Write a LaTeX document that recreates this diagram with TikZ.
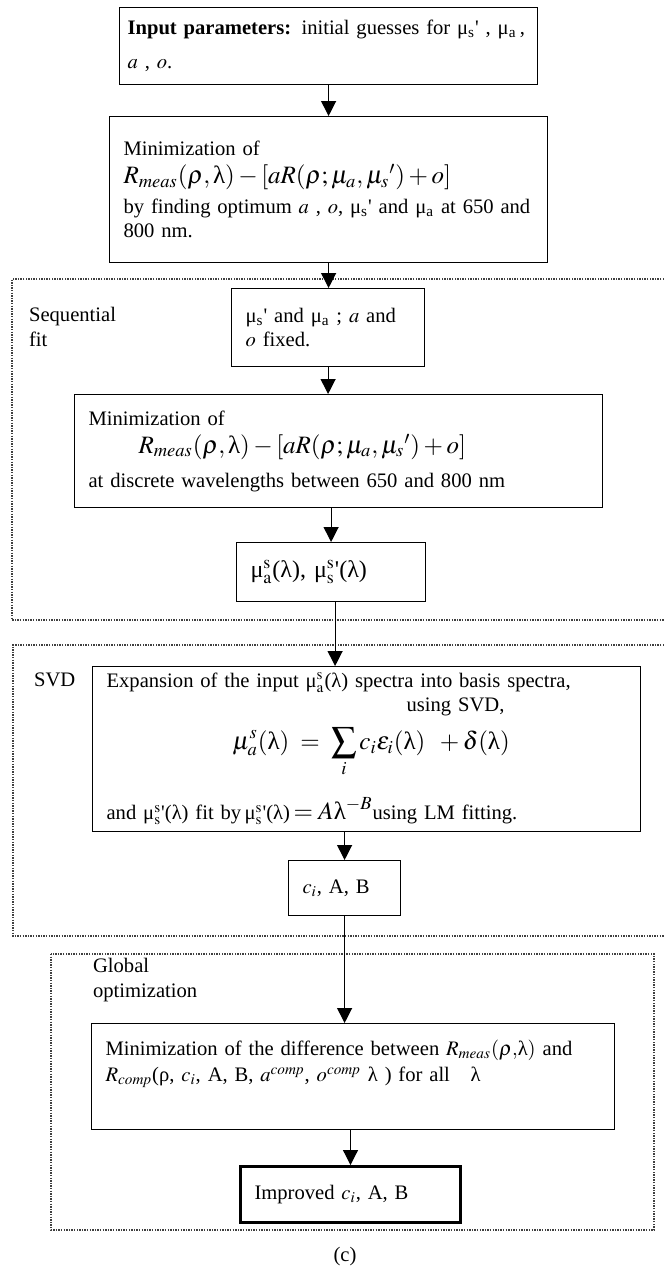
\documentclass[tikz,border=0pt]{standalone}
\usepackage{amsmath}
\usepackage{mathptmx}
\usepackage{fontspec}
\setmainfont{Liberation Serif}
\usetikzlibrary{arrows.meta}
\newcommand{\tsub}[1]{\textsubscript{#1}}
\newcommand{\pr}{\textquotesingle}
\newcommand{\lam}{\mbox{λ}}
\newcommand{\mysa}{μ$^{\mathrm{s}}_{\mathrm{a}}$}
\newcommand{\myss}{μ$^{\mathrm{s}}_{\mathrm{s}}$\pr}

\begin{document}
\begin{tikzpicture}[x=0.5pt,y=-0.5pt,
    stream/.style={-{Triangle[width=7.5pt,length=7.5pt]},line width=0.6pt},
    box/.style={draw,line width=0.6pt,anchor=north west,align=left,
      inner xsep=7pt,inner ysep=3pt,font=\fontsize{10.3}{12}\selectfont},
    frame/.style={line width=0.6pt,black!75,dash pattern=on 0.7pt off 0.6pt}]
    \useasboundingbox (0,0) rectangle (664,1266);

    %start
    \node [box,inner xsep=4pt,text width=201pt,minimum height=38.5pt] (input) at (119,7)
      {\mbox{\textbf{Input parameters:} initial guesses for μ\tsub{s}\pr\ , μ\tsub{a}\,,}\\[5pt]
       $a$ , $o$.};
    \node [box,text width=205pt,minimum height=73pt] (minA) at (109,116)
      {Minimization of\\[2pt]
       {\fontsize{12.5}{14}\selectfont $R_{\mathit{meas}}(\rho,\lam)-[aR(\rho;\mu_a,\mu_s{}')+o]$}\\[3pt]
       by finding optimum $a$ , $o$, μ\tsub{s}\pr\ and μ\tsub{a} at 650 and\\
       800 nm.};

    %Sequential fit
    \draw [frame] (664,279) -- (12,279) -- (12,620) -- (664,620);
    \node [anchor=west,align=left,font=\fontsize{10.3}{12.5}\selectfont] (seqlab) at (22,327)
      {Sequential\\fit};
    \node [box,text width=82.5pt,minimum height=39pt] (fixed) at (231,288)
      {μ\tsub{s}\pr\ and μ\tsub{a} ; $a$ and\\ $o$ fixed.};
    \node [box,text width=250pt,minimum height=56.5pt] (minB) at (74,394)
      {Minimization of\\[2pt]
       \hspace*{25pt}{\fontsize{12.5}{14}\selectfont $R_{\mathit{meas}}(\rho,\lam)-[aR(\rho;\mu_a,\mu_s{}')+o]$}\\[5pt]
       at discrete wavelengths between 650 and 800 nm};
    \node [box,text width=80.5pt,minimum height=29.5pt,font=\fontsize{12}{14}\selectfont] (spec) at (236,542)
      {\mysa(λ), \myss(λ)};

    %SVD
    \draw [frame] (664,645) -- (13,645) -- (13,936) -- (664,936);
    \node [anchor=west,font=\fontsize{10.3}{12}\selectfont] (svdlab) at (27,680) {SVD};
    \node [box,text width=260pt,minimum height=82pt] (svd) at (92,666)
      {Expansion of the input \mysa(λ) spectra into basis spectra,\\
       \hspace*{150pt}using SVD,\\[5pt]
       \hspace*{63pt}{\fontsize{12.5}{14}\selectfont
       $\displaystyle \mu_a^s(\lam)\;=\;\sum_i c_i\varepsilon_i(\lam)\;\;+\delta(\lam)$}\\[9pt]
       and \myss(λ) fit by\,\myss(λ)\,{\fontsize{12.5}{14}\selectfont $=A\lam^{-B}$}using LM fitting.};
    \node [box,text width=42pt,minimum height=27.5pt] (coef) at (288,860)
      {$c_i$, A, B};

    %Global optimization
    \draw [frame] (51,954) rectangle (654,1230);
    \node [anchor=west,align=left,font=\fontsize{10.3}{12.5}\selectfont] (globlab) at (86,980)
      {Global\\optimization};
    \node [box,text width=247.5pt,minimum height=53pt] (glob) at (91,1023)
      {Minimization of the difference between $R_{\mathit{meas}}(\rho,$λ$)$ and\\[1pt]
       $R_{\mathit{comp}}$(ρ, $c_i$, A, B, $a^{\mathit{comp}}$, $o^{\mathit{comp}}$ λ ) for all \ \ λ\\
       \strut};
    \node [box,line width=1.5pt,text width=96pt,minimum height=28pt] (best) at (239,1165)
      {Improved $c_i$, A, B};

    \node [font=\fontsize{10.3}{12}\selectfont] (cap) at (345,1257) {(c)};

    %arrows
    \draw [stream] (input.south) -- (input.south |- minA.north);
    \draw [stream] (minA.south) -- (minA.south |- fixed.north);
    \draw [stream] (fixed.south) -- (fixed.south |- minB.north);
    \draw [stream] (minB.south -| spec.north) -- (spec.north);
    \draw [stream] ([xshift=2pt]spec.south) -- ([xshift=2pt]spec.south |- svd.north);
    \draw [stream] (svd.south -| coef.north) -- (coef.north);
    \draw [stream] (coef.south) -- (coef.south |- glob.north);
    \draw [stream] (glob.south -| best.north) -- (best.north);
\end{tikzpicture}
\end{document}
